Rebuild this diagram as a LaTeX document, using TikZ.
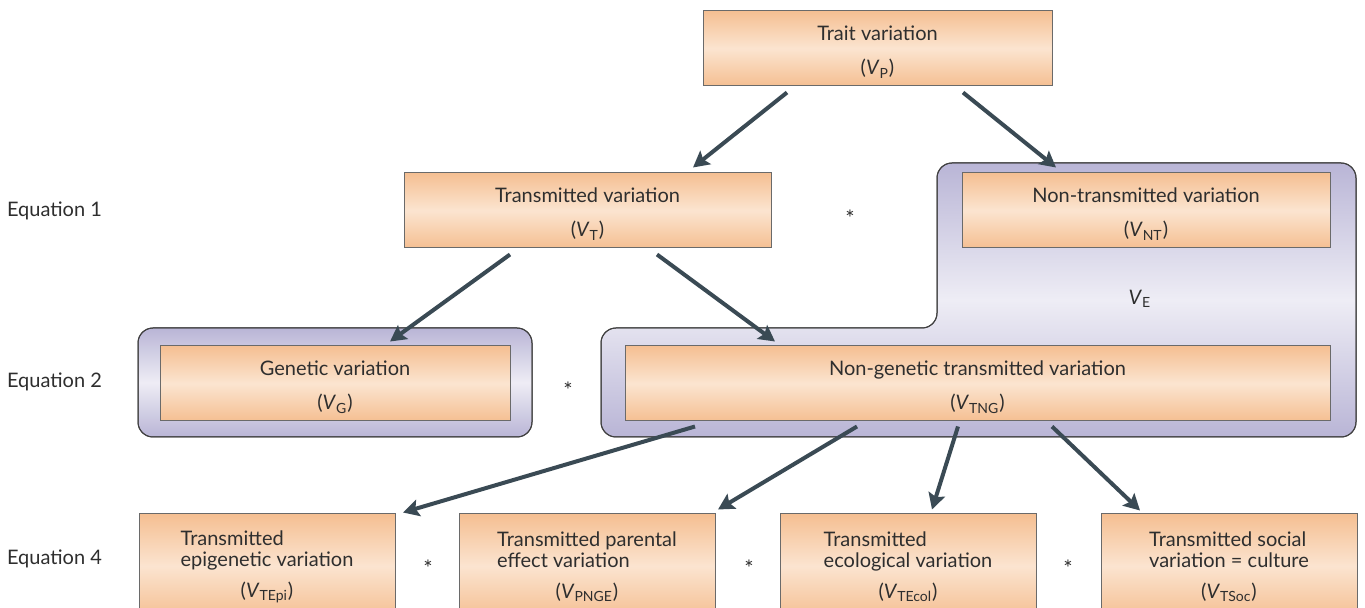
\documentclass[tikz,border=0pt]{standalone}
\usepackage{fontspec}
\setmainfont{Lato}
\usetikzlibrary{arrows.meta}

\definecolor{boxedge}{HTML}{6A6A6A}
\definecolor{boxdark}{HTML}{F5BF92}
\definecolor{boxlight}{HTML}{FBE4D0}
\definecolor{regdark}{HTML}{B9B5D6}
\definecolor{reglight}{HTML}{EEEDF5}
\definecolor{arrowcol}{HTML}{3A4A54}
\definecolor{textcol}{HTML}{2E2E2E}

\newcommand{\vsub}[1]{(\textit{V}\textsubscript{#1})}

\tikzset{
  varbox/.style={draw=boxedge, line width=0.5pt, top color=boxdark, bottom color=boxdark,
    middle color=boxlight, align=center, text=textcol, inner sep=0pt,
    font=\fontsize{10}{12}\selectfont},
  region/.style={draw=black!75, line width=0.5pt, rounded corners=7.5pt,
    top color=regdark, bottom color=regdark, middle color=reglight},
  arr/.style={draw=arrowcol, line width=2pt, -{Stealth[length=8pt,width=8.5pt,inset=1.5pt]}},
  eqlabel/.style={anchor=west, text=textcol, font=\fontsize{10}{12}\selectfont},
  times/.style={text=textcol, font=\fontsize{11}{12}\selectfont}
}

\begin{document}
\begin{tikzpicture}[x=0.5pt,y=-0.5pt]
  \useasboundingbox (0,0) rectangle (1365,608);
  \clip (0,0) rectangle (1365,608);

  % Bereiche hinten
  \shade[region] (138,328) rectangle (532,437);
  \shade[region] (601,437) -- (601,328) -- (937,328) -- (937,163) -- (1356,163)
    -- (1356,437) -- cycle;
  \draw[draw=black!75, line width=0.5pt, rounded corners=7.5pt] (138,328) rectangle (532,437);
  \draw[draw=black!75, line width=0.5pt, rounded corners=7.5pt] (601,437) -- (601,328)
    -- (937,328) -- (937,163) -- (1356,163) -- (1356,437) -- cycle;

  % Kaesten
  \node[varbox, minimum width=174.5pt, minimum height=37.5pt] (vp) at (877.5,48.5)
    {\rule{0pt}{11pt}Trait variation\\[5pt]\vsub{P}};
  \node[varbox, minimum width=183.5pt, minimum height=37.5pt] (vt) at (587.5,210.5)
    {\rule{0pt}{11pt}Transmitted variation\\[5pt]\vsub{T}};
  \node[varbox, minimum width=184pt, minimum height=37.5pt] (vnt) at (1146,210.5)
    {\rule{0pt}{11pt}Non-transmitted variation\\[5pt]\vsub{NT}};
  \node[varbox, minimum width=175pt, minimum height=37.5pt] (vg) at (335,383.5)
    {\rule{0pt}{11pt}Genetic variation\\[5pt]\vsub{G}};
  \node[varbox, minimum width=352.5pt, minimum height=37.5pt] (vtng) at (977.5,383.5)
    {\rule{0pt}{11pt}Non-genetic transmitted variation\\[5pt]\vsub{TNG}};

  \node[varbox, minimum width=128pt, minimum height=52pt] (vtepi) at (267,566)
    {\begin{tabular}{@{}l@{}}Transmitted\\[-1.5pt]epigenetic variation\end{tabular}\\[3pt]\vsub{TEpi}};
  \node[varbox, minimum width=128pt, minimum height=52pt] (vpnge) at (587,566)
    {\begin{tabular}{@{}l@{}}Transmitted parental\\[-1.5pt]effect variation\end{tabular}\\[3pt]\vsub{PNGE}};
  \node[varbox, minimum width=128pt, minimum height=52pt] (vtecol) at (908,566)
    {\begin{tabular}{@{}l@{}}Transmitted\\[-1.5pt]ecological variation\end{tabular}\\[3pt]\vsub{TEcol}};
  \node[varbox, minimum width=128pt, minimum height=52pt] (vtsoc) at (1229,566)
    {\begin{tabular}{@{}l@{}}Transmitted social\\[-1.5pt]variation = culture\end{tabular}\\[3pt]\vsub{TSoc}};

  % Pfeile
  \draw[arr] ([xshift=-45.25pt,yshift=-3pt]vp.south) -- ([xshift=52.75pt,yshift=2.5pt]vt.north);
  \draw[arr] ([xshift=42.75pt,yshift=-3pt]vp.south) -- ([xshift=-45pt,yshift=2.5pt]vnt.north);
  \draw[arr] ([xshift=-38.75pt,yshift=-3pt]vt.south) -- ([xshift=27.5pt,yshift=2pt]vg.north);
  \draw[arr] ([xshift=34.75pt,yshift=-3pt]vt.south) -- ([xshift=-101.25pt,yshift=2pt]vtng.north);
  \draw[arr] ([xshift=-141.25pt,yshift=-2.5pt]vtng.south) -- ([xshift=68pt,yshift=0.5pt]vtepi.north);
  \draw[arr] ([xshift=-60.25pt,yshift=-2.5pt]vtng.south) -- ([xshift=65.5pt,yshift=2pt]vpnge.north);
  \draw[arr] ([xshift=-9.75pt,yshift=-2.5pt]vtng.south) -- ([xshift=12pt,yshift=2pt]vtecol.north);
  \draw[arr] ([xshift=37.25pt,yshift=-2.5pt]vtng.south) -- ([xshift=-44.5pt,yshift=1.5pt]vtsoc.north);

  % Beschriftungen
  \node[eqlabel] (eq1) at (0,211) {Equation 1};
  \node[eqlabel] (eq2) at (0,382) {Equation 2};
  \node[eqlabel] (eq4) at (0,559) {Equation 4};
  \node[times] (s1) at (850,218) {*};
  \node[times] (s2) at (568,390) {*};
  \node[times] (s3) at (428,568) {*};
  \node[times] (s4) at (749,568) {*};
  \node[times] (s5) at (1068,568) {*};
  \node[times, font=\fontsize{10}{12}\selectfont] (ve) at (1140,299) {\textit{V}\textsubscript{E}};
\end{tikzpicture}
\end{document}
